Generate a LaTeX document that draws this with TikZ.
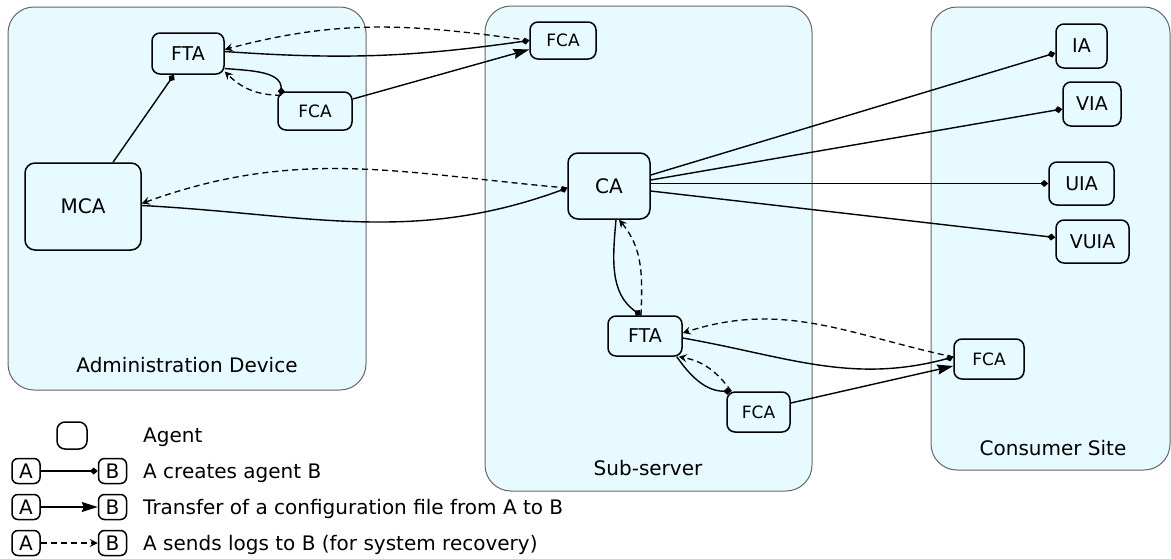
\documentclass[tikz,border=0pt]{standalone}
\usepackage{fontspec}
\setmainfont{DejaVu Sans}
\usetikzlibrary{arrows.meta,shapes.geometric}
\definecolor{bgc}{RGB}{230,250,255}
\tikzset{
  cont/.style={draw=black!60, fill=bgc, rounded corners=26pt, line width=1pt},
  agent/.style={draw, line width=1.5pt, rounded corners=8pt, inner sep=0pt},
  fs/.style={font=\fontsize{#1}{#1}\selectfont},
  txt/.style={inner sep=0pt, font=\fontsize{20}{24}\selectfont},
  creates/.style={line width=1.4pt, -{Diamond[length=8pt,width=7pt]}},
  transfer/.style={line width=1.4pt, -{Stealth[length=16pt,width=10pt,inset=2pt]}},
  logs/.style={line width=1.3pt, dash pattern=on 6pt off 4pt, -{Stealth[length=8pt,width=8pt,inset=3pt]}},
}
\begin{document}
\begin{tikzpicture}[x=1pt,y=1pt]
\useasboundingbox (0,0) rectangle (1171,-558);
% containers
\draw[cont] (8,-7) rectangle (366,-390);
\draw[cont] (485,-6) rectangle (812,-491);
\draw[cont] (931,-7) rectangle (1170,-470);
\node[txt, anchor=base] (admL) at (187,-372) {Administration Device};
\node[txt, anchor=base] (subL) at (648,-475) {Sub-server};
\node[txt, anchor=base] (conL) at (1053,-455) {Consumer Site};
% agents
\node[agent, fs=19, minimum width=72pt, minimum height=41pt] (FTA1) at (188,-53.5) {FTA};
\node[agent, fs=17, minimum width=74pt, minimum height=38pt] (FCA1) at (315,-111) {FCA};
\node[agent, fs=20, minimum width=116pt, minimum height=87pt, rounded corners=10pt] (MCA) at (83,-206.5) {MCA};
\node[agent, fs=17, minimum width=66pt, minimum height=37pt] (FCAt) at (563,-40.5) {FCA};
\node[agent, fs=20, minimum width=82pt, minimum height=66pt, rounded corners=10pt] (CA) at (609,-186) {CA};
\node[agent, fs=19, minimum width=74pt, minimum height=40pt] (FTA2) at (645,-336) {FTA};
\node[agent, fs=17, minimum width=63pt, minimum height=40pt] (FCA2) at (758.5,-412) {FCA};
\node[agent, fs=19, minimum width=51pt, minimum height=44pt] (IA) at (1081.5,-46) {IA};
\node[agent, fs=19, minimum width=58pt, minimum height=44pt] (VIA) at (1092,-104) {VIA};
\node[agent, fs=19, minimum width=65pt, minimum height=43pt] (UIA) at (1081.5,-183.5) {UIA};
\node[agent, fs=19, minimum width=73pt, minimum height=43pt] (VUIA) at (1092.5,-241.5) {VUIA};
\node[agent, fs=17, minimum width=70pt, minimum height=40pt] (FCA3) at (989,-359) {FCA};
% admin connectors
\draw[creates] ([xshift=30pt]MCA.north) -- ([xshift=-14pt]FTA1.south);
\draw[creates] ([yshift=-15pt]FTA1.east) to[out=-5,in=90] ([xshift=4pt,yshift=-4pt]FCA1.north west);
\draw[logs] ([xshift=4pt,yshift=-4pt]FCA1.north west) to[out=180,in=-45] ([yshift=-18pt]FTA1.east);
\draw[transfer] ([yshift=12pt]FCA1.east) -- ([yshift=-9pt]FCAt.west);
\draw[creates] ([yshift=2pt]FTA1.east) to[out=-4,in=188] (FCAt.west);
\draw[logs] (FCAt.west) to[out=172,in=15] ([yshift=4pt]FTA1.east);
\draw[creates] ([yshift=1pt]MCA.east) to[out=-3,in=200] ([yshift=-2pt]CA.west);
\draw[logs] ([yshift=-2pt]CA.west) to[out=175,in=20] ([yshift=3pt]MCA.east);
% sub-server connectors
\draw[creates] ([xshift=7pt]CA.south) to[out=-95,in=145] ([xshift=-4pt]FTA2.north);
\draw[logs] ([xshift=-4pt]FTA2.north) to[out=88,in=-50] ([xshift=10pt]CA.south);
\draw[creates] ([xshift=-6pt]FTA2.south east) to[out=-55,in=180] ([xshift=5pt]FCA2.north west);
\draw[logs] ([xshift=5pt]FCA2.north west) to[out=126,in=-10] ([xshift=-4pt]FTA2.south east);
\draw[creates] ([yshift=-2pt]FTA2.east) to[out=-10,in=195] ([yshift=2pt]FCA3.west);
\draw[logs] ([yshift=2pt]FCA3.west) to[out=168,in=18] ([yshift=3pt]FTA2.east);
\draw[transfer] ([yshift=9pt]FCA2.east) -- ([yshift=-7pt]FCA3.west);
\draw[creates] ([yshift=11pt]CA.east) -- ([yshift=-7pt]IA.west);
\draw[creates] ([yshift=6pt]CA.east) -- ([yshift=-5pt]VIA.west);
\draw[creates] (CA.east |- UIA.west) -- (UIA.west);
\draw[creates] ([yshift=-5pt]CA.east) -- ([yshift=4pt]VUIA.west);
% legend
\node[agent, minimum width=30pt, minimum height=27pt] (legAg) at (72,-435.5) {};
\node[txt, anchor=base west] (legAgT) at (143,-442) {Agent};
\node[agent, fs=20, minimum width=28pt, minimum height=25pt, rounded corners=6pt] (lA1) at (26,-471) {A};
\node[agent, fs=20, minimum width=28pt, minimum height=25pt, rounded corners=6pt] (lB1) at (112.5,-471) {B};
\node[txt, anchor=base west] (lT1) at (143,-478) {A creates agent B};
\node[agent, fs=20, minimum width=28pt, minimum height=25pt, rounded corners=6pt] (lA2) at (26,-507) {A};
\node[agent, fs=20, minimum width=28pt, minimum height=25pt, rounded corners=6pt] (lB2) at (112.5,-507) {B};
\node[txt, anchor=base west] (lT2) at (143,-514) {Transfer of a configuration file from A to B};
\node[agent, fs=20, minimum width=28pt, minimum height=25pt, rounded corners=6pt] (lA3) at (26,-543) {A};
\node[agent, fs=20, minimum width=28pt, minimum height=25pt, rounded corners=6pt] (lB3) at (112.5,-543) {B};
\node[txt, anchor=base west] (lT3) at (143,-550) {A sends logs to B (for system recovery)};
\draw[creates] (lA1) -- (lB1);
\draw[transfer] (lA2) -- (lB2);
\draw[logs] (lA3) -- (lB3);
\end{tikzpicture}
\end{document}
